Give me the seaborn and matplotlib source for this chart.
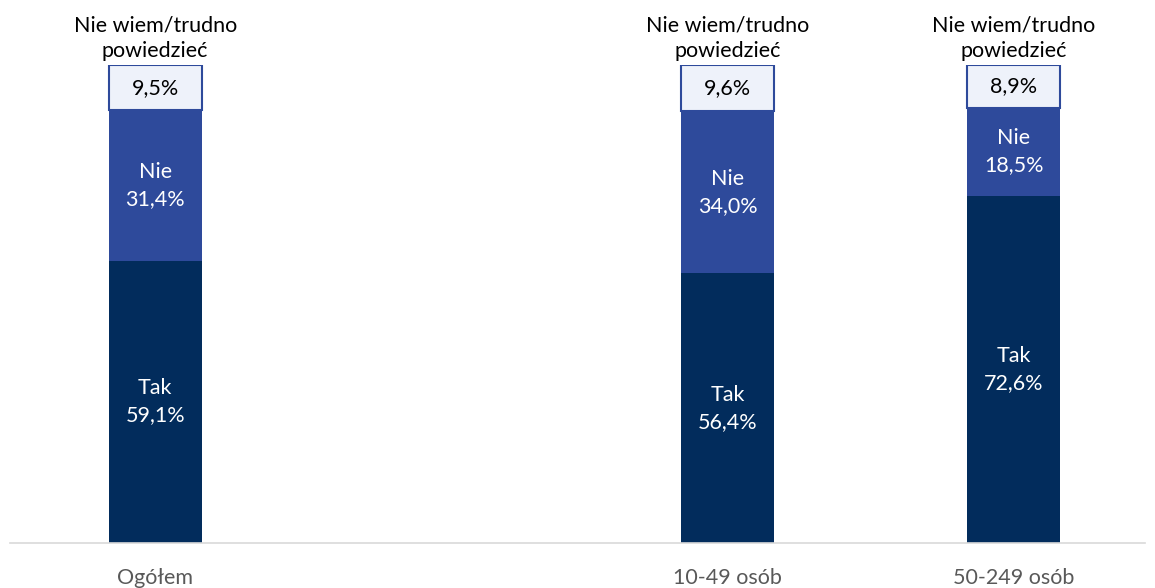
import matplotlib
matplotlib.use("Agg")
import matplotlib.pyplot as plt
import seaborn as sns
import pandas as pd
import numpy as np

# Survey answers by company size (percent)
categories = ["Ogółem", "", "10-49 osób", "50-249 osób"]
groups = ["Ogółem", "10-49 osób", "50-249 osób"]
tak = [59.1, 56.4, 72.6]
nie = [31.4, 34.0, 18.5]
nie_wiem = [9.5, 9.6, 8.9]
top_label = "Nie wiem/trudno\npowiedzieć"

c_tak = "#022c5c"
c_nie = "#2e4a9b"
c_dk = "#eef2fa"

sns.set_theme(style="white")
plt.rcParams["font.family"] = ["Lato", "DejaVu Sans"]

df = pd.DataFrame({"grupa": groups, "tak": tak, "nie": nie, "dk": nie_wiem})
df["c1"] = df["tak"]
df["c2"] = df["tak"] + df["nie"]
df["c3"] = df["c2"] + df["dk"]

fig = plt.figure(figsize=(11.55, 5.88), dpi=100)
ax = fig.add_axes([10 / 1155, 45 / 588, 1135 / 1155, 478 / 588])

width = 0.325
# "don't know" segment: drawn as stacked layer, then moved onto the Nie segment
sns.barplot(data=df, x="grupa", y="c3", order=categories, color=c_dk,
            saturation=1, width=width, edgecolor=c_nie, linewidth=1.5, ax=ax)
n_dk = len(ax.patches)
sns.barplot(data=df, x="grupa", y="c2", order=categories, color=c_nie,
            saturation=1, width=width, linewidth=0, ax=ax)
sns.barplot(data=df, x="grupa", y="c1", order=categories, color=c_tak,
            saturation=1, width=width, linewidth=0, ax=ax)

dk_patches = [p for p in ax.patches[:n_dk] if np.isfinite(p.get_height()) and p.get_height() > 0]
for p, (_, row) in zip(dk_patches, df.iterrows()):
    p.set_y(row["c2"])
    p.set_height(row["dk"])
    p.set_zorder(3)

pos = {c: i for i, c in enumerate(categories)}
fs = 15.5
for _, row in df.iterrows():
    x = pos[row["grupa"]]
    ax.text(x, row["c1"] / 2, f"Tak\n{row['tak']:.1f}%".replace(".", ","),
            ha="center", va="center", color="white", fontsize=fs, linespacing=1.45, zorder=5)
    ax.text(x, row["c1"] + row["nie"] / 2, f"Nie\n{row['nie']:.1f}%".replace(".", ","),
            ha="center", va="center", color="white", fontsize=fs, linespacing=1.45, zorder=5)
    ax.text(x, row["c2"] + row["dk"] / 2, f"{row['dk']:.1f}%".replace(".", ","),
            ha="center", va="center", color="black", fontsize=fs, zorder=5)
    ax.text(x, row["c3"] + 0.9, top_label, ha="center", va="bottom", color="black",
            fontsize=fs, linespacing=1.3, zorder=5, clip_on=False)

ax.set_xlim(-0.507, 3.458)
ax.set_ylim(0, 100)
ax.set_xlabel("")
ax.set_ylabel("")
ax.set_yticks([])
ax.set_xticks(range(len(categories)))
ax.set_xticklabels(categories, color="#595959", fontsize=fs)
ax.tick_params(axis="x", length=0, pad=18)
sns.despine(ax=ax, left=True, top=True, right=True)
ax.spines["bottom"].set_color("#d9d9d9")
ax.spines["bottom"].set_linewidth(1.2)

fig.savefig("out.png", dpi=100)
